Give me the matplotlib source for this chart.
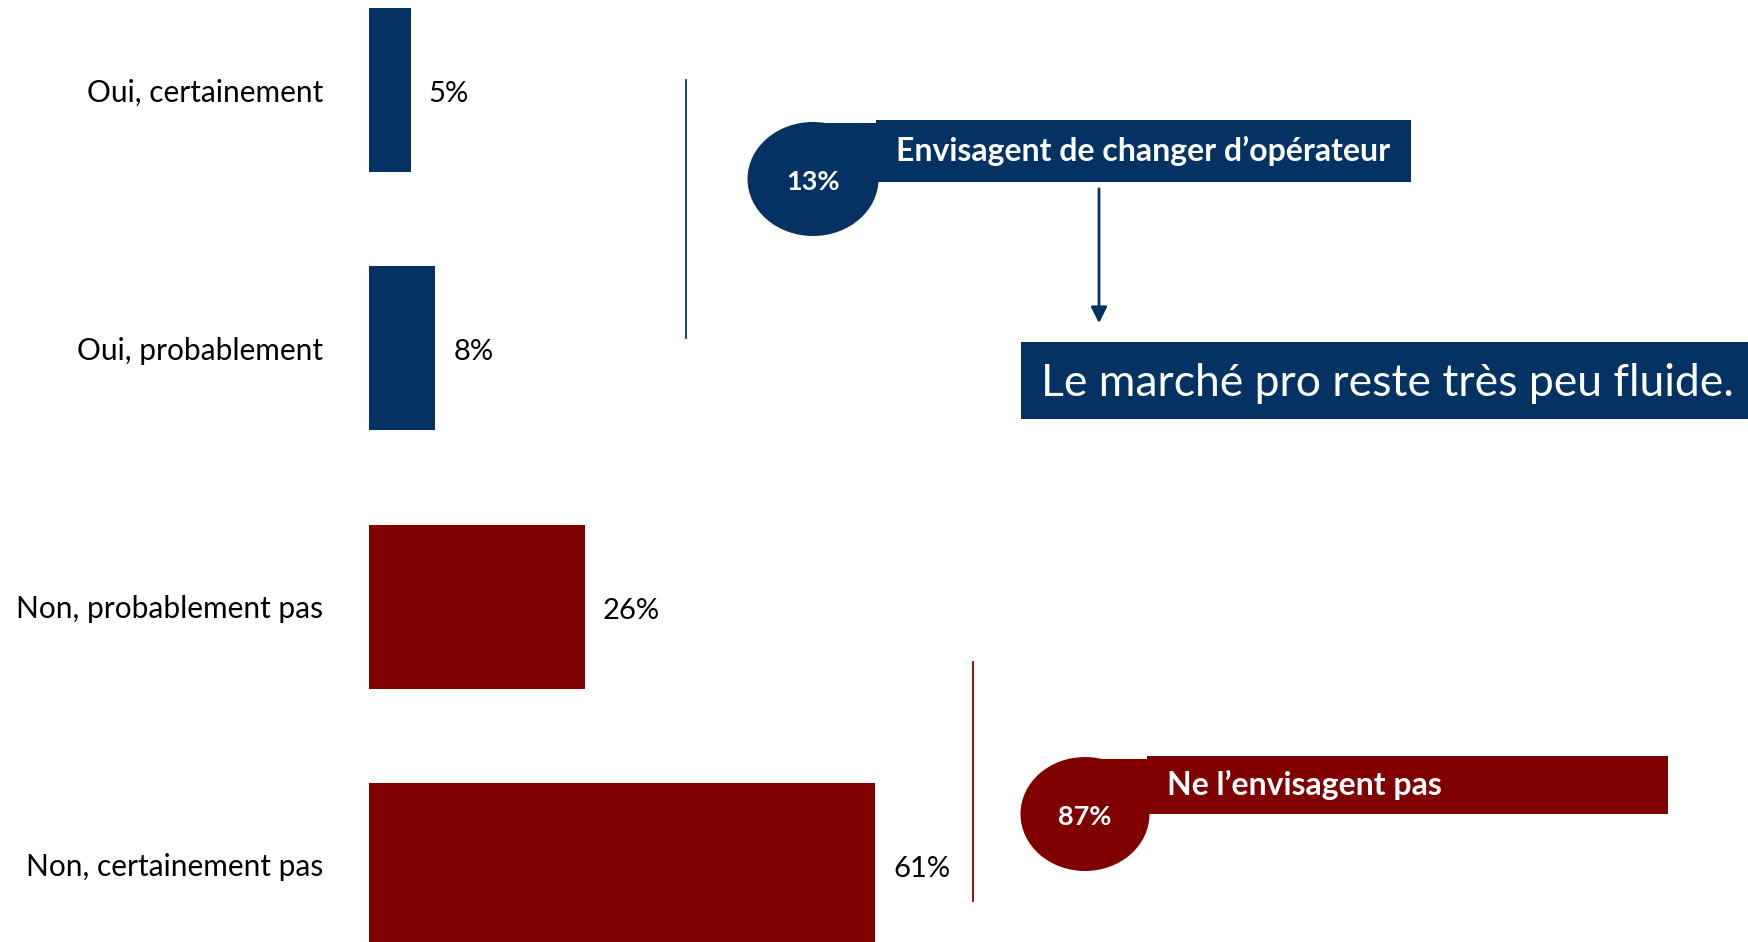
import matplotlib
matplotlib.use("Agg")
import matplotlib.pyplot as plt
from matplotlib.patches import Ellipse, Rectangle

plt.rcParams['font.family'] = ['Lato', 'DejaVu Sans']

# data
categories = ['Oui, certainement', 'Oui, probablement', 'Non, probablement pas', 'Non, certainement pas']
values = [5, 8, 26, 61]
bar_colors = ['#033263', '#033263', '#800000', '#800000']
group_labels = ["Envisagent de changer d\u2019op\u00e9rateur", "Ne l\u2019envisagent pas"]
group_values = [13, 87]
conclusion = "Le march\u00e9 pro reste tr\u00e8s peu fluide."

BLUE = '#033263'
RED = '#800000'
W, H = 1749, 942
px_per_pct = 8.3
bar_left = 369
row_step = 258.3
first_row = 90

fig = plt.figure(figsize=(W / 100, H / 100), dpi=100)

# bar chart axes, spans whole figure height, starts at bar origin
ax = fig.add_axes([bar_left / W, 0, 1 - bar_left / W, 1])
ypos = list(range(len(categories)))
ax.barh(ypos, values, height=164 / row_step, color=bar_colors)
ax.set_xlim(0, (W - bar_left) / px_per_pct)
ax.set_ylim((H - first_row) / row_step, -first_row / row_step)
ax.set_yticks(ypos)
ax.set_yticklabels(categories, fontsize=21.5)
ax.tick_params(axis='y', length=0, pad=33)
ax.set_xticks([])
for s in ax.spines.values():
    s.set_visible(False)
for y, v in zip(ypos, values):
    ax.text(v + 18 / px_per_pct, y + 4 / row_step, f'{v}%', va='center', ha='left', fontsize=21)

# overlay in pixel coordinates for the callouts
ov = fig.add_axes([0, 0, 1, 1], zorder=3)
ov.set_xlim(0, W)
ov.set_ylim(H, 0)
ov.axis('off')
ov.patch.set_alpha(0)

# bracket lines
ov.plot([686, 686], [80, 338], color=BLUE, lw=1.3)
ov.plot([973, 973], [662, 901], color=RED, lw=1.3)


def bubble(cx, cy, w, h, bx1, by0, by1, color, pct, label):
    ov.add_patch(Ellipse((cx, cy), w, h, color=color, lw=0))
    ov.add_patch(Rectangle((cx, by0 + 3), w / 2, cy - by0 - 3, color=color, lw=0))
    ov.add_patch(Rectangle((cx + w / 2 - 2, by0), bx1 - cx - w / 2 + 2, by1 - by0, color=color, lw=0))
    ov.text(cx, cy + 3, f'{pct}%', color='white', fontsize=19.5, fontweight='bold',
            ha='center', va='center')
    ov.text(cx + w / 2 + 18, (by0 + by1) / 2, label, color='white', fontsize=23,
            fontweight='bold', ha='left', va='center')


bubble(813, 179, 131, 114, 1411, 120, 182, BLUE, group_values[0], group_labels[0])
bubble(1085, 814, 129, 114, 1668, 756, 814, RED, group_values[1], group_labels[1])

# arrow to conclusion
ov.annotate('', xy=(1099, 326), xytext=(1099, 186),
            arrowprops=dict(arrowstyle='-|>', color=BLUE, lw=2, mutation_scale=24))

ov.add_patch(Rectangle((1021, 342), W - 1021, 77, color=BLUE, lw=0))
ov.text(1041, 383, conclusion, color='white', fontsize=32, ha='left', va='center')

fig.savefig('out.png', dpi=100)
